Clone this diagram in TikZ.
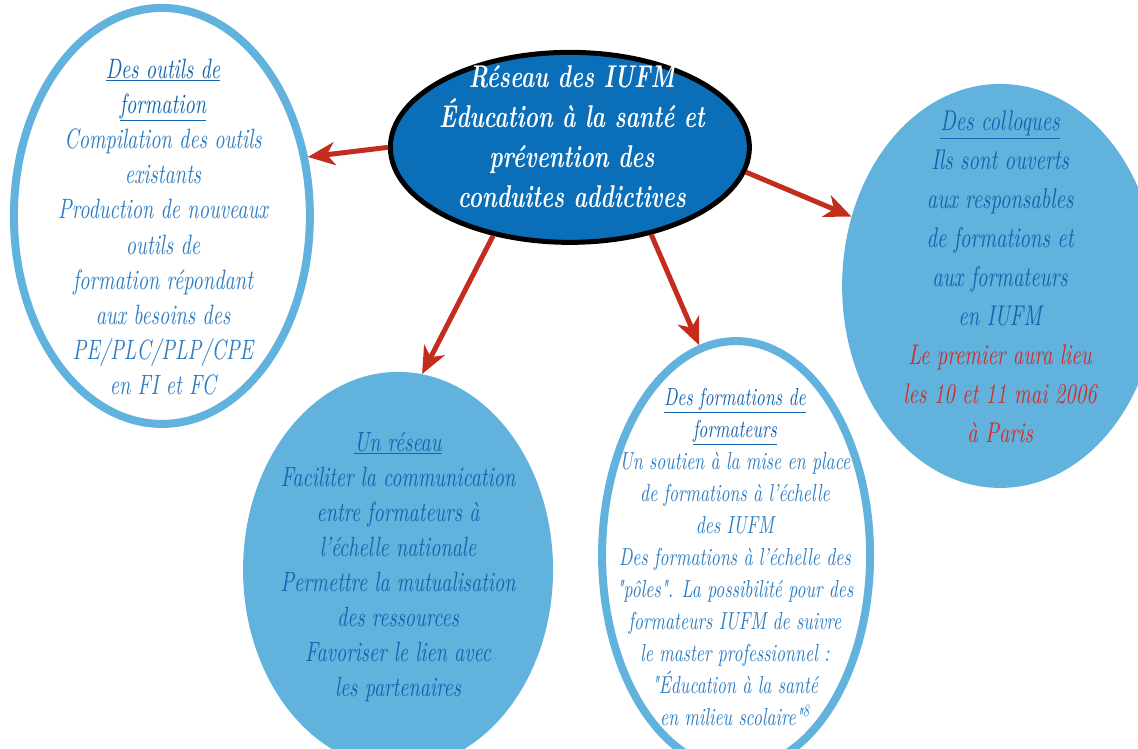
\documentclass[tikz,border=0pt]{standalone}
\usepackage{fontspec}
\setmainfont{lmroman10-regular.otf}[ItalicFont=lmroman10-italic.otf,BoldFont=lmroman10-bold.otf,BoldItalicFont=lmroman10-bolditalic.otf,FakeStretch=0.72,Ligatures=TeXOff]
\usetikzlibrary{arrows.meta,shapes.geometric}

\definecolor{skyblue}{RGB}{98,178,222}
\definecolor{hubblue}{RGB}{10,110,185}
\definecolor{inkblue}{RGB}{45,125,195}
\definecolor{deepblue}{RGB}{20,100,175}
\definecolor{linkred}{RGB}{196,45,30}
\definecolor{datered}{RGB}{210,45,40}

\tikzset{
  bubble/.style={ellipse,inner sep=0pt},
  ringed/.style={bubble,draw=skyblue,line width=8pt,fill=white},
  filled/.style={bubble,fill=skyblue},
  hubnode/.style={bubble,draw=black,line width=5pt,fill=hubblue},
  blurb/.style={align=center,text=inkblue,font=\itshape\fontsize{28}{35.2}\selectfont},
  link/.style={linkred,line width=5pt,-{Stealth[length=27pt,width=23pt,inset=8pt]}}
}

\begin{document}
\begin{tikzpicture}
\useasboundingbox (0,0) rectangle (1138pt,748pt);

\node[ringed,minimum width=296pt,minimum height=416pt] (tools) at (5.69,18.70) {};
\node[filled,minimum width=316pt,minimum height=404pt] (coll) at (35.15,16.24) {};
\node[filled,minimum width=310pt,minimum height=396pt] (reseau) at (13.99,6.26) {};
\node[ringed,minimum width=268pt,minimum height=428pt] (form) at (25.87,6.78) {};
\node[hubnode,minimum width=359pt,minimum height=190pt] (hub) at (20.03,21.11) {};

\node[blurb] (tools-txt) at (5.73,18.31)
    {{\color{deepblue}\underline{Des outils de}}\\
     {\color{deepblue}\underline{formation}}\\
     Compilation des outils\\
     existants\\
     Production de nouveaux\\
     outils de\\
     formation répondant\\
     aux besoins des\\
     PE/PLC/PLP/CPE\\
     en FI et FC};
\node[blurb,text=white,font=\bfseries\itshape\fontsize{31.5}{40}\selectfont] (hub-txt) at (20.10,21.48)
    {Réseau des IUFM\\
     Éducation à la santé et\\
     prévention des\\
     conduites addictives};
\node[blurb,text=deepblue,font=\itshape\fontsize{28.5}{39}\selectfont] (coll-txt) at (35.15,16.55)
    {\underline{Des colloques}\\
     Ils sont ouverts\\
     aux responsables\\
     de formations et\\
     aux formateurs\\
     en IUFM\\
     {\color{datered}Le premier aura lieu}\\
     {\color{datered}les 10 et 11 mai 2006}\\
     {\color{datered}à Paris}};
\node[blurb,text=deepblue,font=\itshape\fontsize{27.8}{35}\selectfont] (reseau-txt) at (13.99,6.36)
    {\underline{Un réseau}\\
     Faciliter la communication\\
     entre formateurs à\\
     l’échelle nationale\\
     Permettre la mutualisation\\
     des ressources\\
     Favoriser le lien avec\\
     les partenaires};
\node[blurb,font=\itshape\fontsize{24.6}{32}\selectfont] (form-txt) at (25.83,6.71)
    {{\color{deepblue}\underline{Des formations de}}\\
     {\color{deepblue}\underline{formateurs}}\\
     Un soutien à la mise en place\\
     de formations à l’échelle\\
     des IUFM\\
     Des formations à l’échelle des\\
     "pôles". La possibilité pour des\\
     formateurs IUFM de suivre\\
     le master professionnel :\\
     "Éducation à la santé\\
     en milieu scolaire"\textsuperscript{8}};

\draw[link] (hub.180) -- (tools.22);
\draw[link] (hub.229) -- (reseau.83);
\draw[link] (hub.313) -- (form.100);
\draw[link] (hub.352) -- (coll.155);
\end{tikzpicture}
\end{document}
